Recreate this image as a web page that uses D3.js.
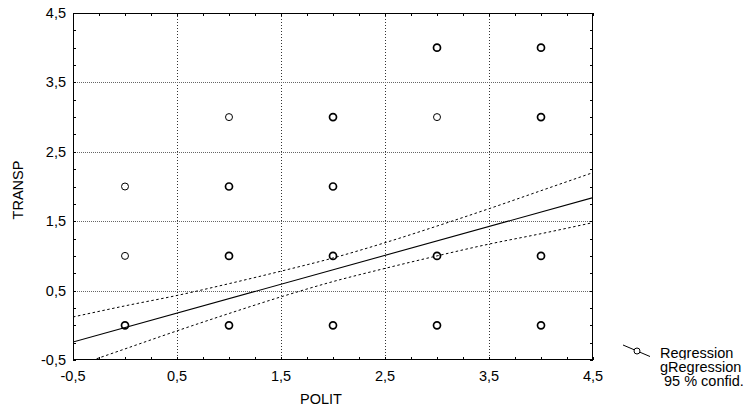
<!DOCTYPE html>
<html><head><meta charset="utf-8">
<script src="https://cdn.jsdelivr.net/npm/d3@7"></script>
<style>
html,body{margin:0;padding:0;background:#fff;}
text{font-family:"Liberation Sans",Arial,sans-serif;font-size:14.5px;fill:#000;}
</style></head>
<body><svg id="c" width="748" height="414"></svg>
<script>
// ---- data ----
const pointsX = [0,0,0, 1,1,1,1, 2,2,2,2, 3,3,3,3, 4,4,4,4];
const pointsY = [0,1,2, 0,1,2,3, 0,1,2,3, 0,1,3,4, 0,1,3,4];
const pointsN = [2,1,1, 2,2,2,1, 2,2,2,2, 2,2,1,2, 2,2,2,2]; // overlapping observations
const regX = [-0.5, 4.5];
const regY = [-0.24, 1.84];
const bandX     = [-0.5, 0, 0.5, 1, 1.5, 2, 2.5, 3, 3.5, 4, 4.5];
const bandUpper = [0.12, 0.28, 0.43, 0.60, 0.78, 0.97, 1.19, 1.43, 1.68, 1.94, 2.20];
const bandLower = [-0.60, -0.34, -0.08, 0.17, 0.41, 0.63, 0.82, 1.00, 1.17, 1.32, 1.48];
const xTicks = [-0.5, 0.5, 1.5, 2.5, 3.5, 4.5];
const yTicks = [-0.5, 0.5, 1.5, 2.5, 3.5, 4.5];
const xLabel = "POLIT", yLabel = "TRANSP";
const legendLabels = ["Regression", "gRegression", " 95 % confid."];

// ---- layout ----
const L = 73, R = 593, T = 13, B = 360;
const svg = d3.select("#c");
const x = d3.scaleLinear().domain([-0.5, 4.5]).range([L, R]);
const y = d3.scaleLinear().domain([-0.5, 4.5]).range([B, T]);
const fmt = d => d3.format(".1f")(d).replace(".", ",").replace("−","-");

svg.append("clipPath").attr("id","plot").append("rect")
  .attr("x",L).attr("y",T).attr("width",R-L).attr("height",B-T);

// grid
const g = svg.append("g");
g.selectAll(".gx").data(xTicks.slice(1,-1)).join("line")
  .attr("x1",d=>Math.round(x(d))+0.5).attr("x2",d=>Math.round(x(d))+0.5)
  .attr("y1",T).attr("y2",B).attr("stroke","#333").attr("stroke-dasharray","1,2");
g.selectAll(".gy").data(yTicks.slice(1,-1)).join("line")
  .attr("y1",d=>Math.round(y(d))+0.5).attr("y2",d=>Math.round(y(d))+0.5)
  .attr("x1",L).attr("x2",R).attr("stroke","#666").attr("stroke-dasharray","1,1");

// minor ticks (inward) on all sides
const minor = d3.range(-0.5, 4.5001, 0.25);
const tk = svg.append("g").attr("stroke","#000");
minor.forEach(v=>{
  const px = Math.round(x(v))+0.5, py = Math.round(y(v))+0.5;
  tk.append("line").attr("x1",px).attr("x2",px).attr("y1",B).attr("y2",B-3);
  tk.append("line").attr("x1",px).attr("x2",px).attr("y1",T).attr("y2",T+3);
  tk.append("line").attr("y1",py).attr("y2",py).attr("x1",L).attr("x2",L+3);
  tk.append("line").attr("y1",py).attr("y2",py).attr("x1",R).attr("x2",R-3);
});

// band + regression
const clipG = svg.append("g").attr("clip-path","url(#plot)");
const line = d3.line().x(d=>x(d[0])).y(d=>y(d[1])).curve(d3.curveMonotoneX);
clipG.append("path").attr("d", line(bandX.map((v,i)=>[v,bandUpper[i]])))
  .attr("fill","none").attr("stroke","#000").attr("stroke-dasharray","2.5,2.5");
clipG.append("path").attr("d", line(bandX.map((v,i)=>[v,bandLower[i]])))
  .attr("fill","none").attr("stroke","#000").attr("stroke-dasharray","2.5,2.5");
clipG.append("path").attr("d", d3.line().x(d=>x(d[0])).y(d=>y(d[1]))(regX.map((v,i)=>[v,regY[i]])))
  .attr("fill","none").attr("stroke","#000").attr("stroke-width",1.1);

// points
svg.append("g").selectAll("circle").data(pointsX.map((v,i)=>({x:v,y:pointsY[i],n:pointsN[i]})))
  .join("circle").attr("cx",d=>x(d.x)).attr("cy",d=>y(d.y)).attr("r",3.5)
  .attr("fill","none").attr("stroke","#000").attr("stroke-width",d=>d.n>1?1.7:1);

// frame
svg.append("rect").attr("x",L+0.5).attr("y",T+0.5).attr("width",R-L-1).attr("height",B-T-1)
  .attr("fill","none").attr("stroke","#000");

// tick labels
svg.append("g").selectAll("text").data(xTicks).join("text")
  .attr("x",d=>x(d)).attr("y",381).attr("text-anchor","middle").text(fmt);
svg.append("g").selectAll("text").data(yTicks).join("text")
  .attr("x",66).attr("y",d=>y(d)+5).attr("text-anchor","end").text(fmt);

// axis titles
svg.append("text").attr("x",321).attr("y",404).attr("text-anchor","middle").text(xLabel);
svg.append("text").attr("transform","translate(23,190) rotate(-90)").attr("text-anchor","middle").text(yLabel);

// legend
const lg = svg.append("g");
lg.append("line").attr("x1",623).attr("y1",345).attr("x2",650).attr("y2",356.5).attr("stroke","#000");
lg.append("circle").attr("cx",637).attr("cy",351).attr("r",3).attr("fill","#fff").attr("stroke","#000");
svg.append("clipPath").attr("id","lg1").append("rect").attr("x",600).attr("y",340).attr("width",148).attr("height",19.5);
lg.append("text").attr("x",660).attr("y",358).attr("clip-path","url(#lg1)").text(legendLabels[0]);
lg.append("text").attr("x",660).attr("y",371.5).text(legendLabels[1]);
lg.append("text").attr("x",660).attr("y",386).attr("xml:space","preserve").style("white-space","pre").text(legendLabels[2]);
</script></body></html>
